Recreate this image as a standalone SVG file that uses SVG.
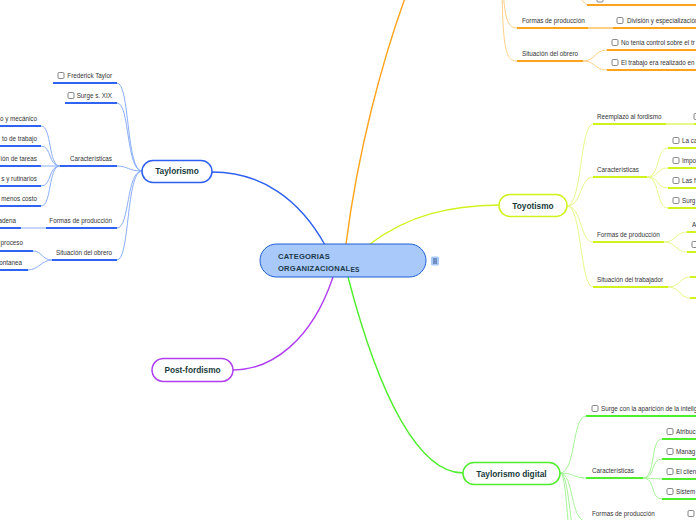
<svg xmlns="http://www.w3.org/2000/svg" width="696" height="520" viewBox="0 0 696 520">
<style>
.lbl{font-family:"Liberation Sans",Arial,sans-serif;font-size:6.3px;fill:#333}
.end{text-anchor:end}
.main{font-family:"Liberation Sans",Arial,sans-serif;font-weight:bold;font-size:8.3px;fill:#173b3b;text-anchor:middle}
.cb{fill:#fff;stroke:#666;stroke-width:0.8}
.c{fill:none;stroke-width:1}
.u{fill:none;stroke-width:2}
.bl{stroke:#3063f2}.blc{stroke:#8aaefc}
.or{stroke:#ffa31a}.orc{stroke:#ffcf85}
.yl{stroke:#d2f21c}.ylc{stroke:#e6f98a}
.gr{stroke:#4fee2c}.grc{stroke:#a6f597}
</style>
<g id="connectors">
<path d="M212,172 C262,172 300,200 325,245" stroke="#2d5ff0" stroke-width="1.4" fill="none"/>
<path d="M346,244 C358,150 382,62 405,-2" stroke="#ffa31a" stroke-width="1.4" fill="none"/>
<path d="M370,244 C410,214 450,206 499,205" stroke="#d2f21c" stroke-width="1.4" fill="none"/>
<path d="M333,277 C312,340 272,370 233,370" stroke="#b03ef0" stroke-width="1.4" fill="none"/>
<path d="M348,277 C380,400 420,473 463,473" stroke="#4fee2c" stroke-width="1.4" fill="none"/>
<g class="c blc">
<path d="M142,171 C126,171 130,83 117,83"/>
<path d="M142,171 C126,171 130,103 117,103"/>
<path d="M142,171 C128,171 128,166 117,166"/>
<path d="M142,171 C126,171 130,228 117,228"/>
<path d="M142,171 C126,171 130,260 117,260"/>
<path d="M60,166 C48,166 52,126 41,126"/>
<path d="M60,166 C48,166 52,146 41,146"/>
<path d="M60,166 L41,166"/>
<path d="M60,166 C48,166 52,186 41,186"/>
<path d="M60,166 C48,166 52,206 41,206"/>
<path d="M46,228 L21,228"/>
<path d="M52,260 C42,260 42,251 33,251"/>
<path d="M52,260 C42,260 38,270 28,270"/>
</g>
<g class="u bl">
<path d="M53,83 H117"/><path d="M65,103 H117"/><path d="M60,166 H117"/>
<path d="M46,228 H117"/><path d="M52,260 H117"/>
<path d="M0,126 H41"/><path d="M0,146 H41"/><path d="M0,166 H41"/><path d="M0,186 H41"/><path d="M0,206 H41"/>
<path d="M0,228 H21"/><path d="M0,251 H33"/><path d="M0,270 H28"/>
</g>
<g class="c orc">
<path d="M503,-10 C505,20 508,28 517,28"/>
<path d="M502,-10 C503,50 506,61 517,61"/>
<path d="M574,-10 C582,-8 580,5 590,5"/>
<path d="M583,61 C596,61 594,50 607,50"/>
<path d="M583,61 C596,61 594,70 607,70"/>
</g>
<path d="M588,28 H613" class="u orc"/>
<g class="u or">
<path d="M587,5 H696"/><path d="M517,28 H588"/><path d="M613,28 H696"/>
<path d="M517,61 H583"/><path d="M607,50 H696"/><path d="M607,70 H696"/>
</g>
<g class="c ylc">
<path d="M567,206 C582,206 580,124 593,124"/>
<path d="M567,206 C582,206 580,177 593,177"/>
<path d="M567,206 C582,206 580,242 593,242"/>
<path d="M567,206 C582,206 580,287 593,287"/>
<path d="M647,177 C660,177 656,148 668,148"/>
<path d="M647,177 C660,177 656,168 668,168"/>
<path d="M647,177 C660,177 656,188 668,188"/>
<path d="M647,177 C660,177 656,208 668,208"/>
<path d="M664,242 C676,242 676,232 687,232"/>
<path d="M664,242 C676,242 676,252 687,252"/>
<path d="M668,287 C680,287 680,277 690,277"/>
<path d="M668,287 C680,287 680,298 690,298"/>
</g>
<path d="M666,124 H694" class="u ylc"/>
<g class="u yl">
<path d="M593,124 H666"/><path d="M694,124 H696"/>
<path d="M593,177 H647"/><path d="M593,242 H664"/><path d="M593,287 H668"/>
<path d="M668,148 H696"/><path d="M668,168 H696"/><path d="M668,188 H696"/><path d="M668,208 H696"/>
<path d="M687,232 H696"/><path d="M687,252 H696"/><path d="M690,277 H696"/><path d="M690,298 H696"/>
</g>
<g class="c grc">
<path d="M560,473 C576,473 572,416 586,416"/>
<path d="M560,473 C574,473 574,478 586,478"/>
<path d="M560,473 C574,473 570,521 586,521"/>
<path d="M560,473 C572,473 568,560 586,560"/>
<path d="M560,473 C570,473 566,600 586,600"/>
<path d="M643,478 C656,478 650,439 662,439"/>
<path d="M643,478 C656,478 650,459 662,459"/>
<path d="M643,478 L662,479"/>
<path d="M643,478 C656,478 650,499 662,499"/>
</g>
<g class="u gr">
<path d="M586,416 H696"/><path d="M586,478 H643"/><path d="M586,521 H660"/>
<path d="M662,439 H696"/><path d="M662,459 H696"/><path d="M662,479 H696"/><path d="M662,499 H696"/>
</g>
</g>
<g id="central">
<rect x="260" y="244" width="166" height="33" rx="16.5" fill="#a8c9fa" stroke="#1e5fd4" stroke-width="1"/>
<text x="278" y="259" font-family="Liberation Sans,Arial,sans-serif" font-weight="bold" font-size="7.6" fill="#1c3b4a" letter-spacing="0.2">CATEGORIAS</text>
<text x="278" y="271" font-family="Liberation Sans,Arial,sans-serif" font-weight="bold" font-size="7.6" fill="#1c3b4a" letter-spacing="0.2">ORGANIZACIONAL<tspan font-size="6.6" dy="0.6">ES</tspan></text>
<rect x="431" y="256.5" width="8" height="9" rx="1.5" fill="#a8c9fa"/>
<path d="M433,259 H437 M433,261 H437 M433,263 H437" stroke="#1c3b6a" stroke-width="0.8"/>
</g>
<g id="taylorismo">
<rect x="142" y="160.5" width="70" height="22" rx="11" fill="#fff" stroke="#2d5ff0" stroke-width="1.5"/>
<text x="177" y="174" class="main">Taylorismo</text>
</g>
<g id="taylorismo-children">
<rect x="58" y="72.5" width="6" height="6" rx="1.2" class="cb"/>
<text x="112" y="78" class="lbl end">Frederick Taylor</text>
<rect x="68" y="92.5" width="6" height="6" rx="1.2" class="cb"/>
<text x="112" y="98" class="lbl end">Surge s. XIX</text>
<text x="112" y="161" class="lbl end">Características</text>
<text x="37" y="121" class="lbl end">o y mecánico</text>
<text x="37" y="141" class="lbl end">to de trabajo</text>
<text x="37" y="161" class="lbl end">ión de tareas</text>
<text x="37" y="181" class="lbl end">s y rutinarios</text>
<text x="37" y="201" class="lbl end">menos costo</text>
<text x="112" y="223" class="lbl end">Formas de producción</text>
<text x="16" y="223" class="lbl end">cadena</text>
<text x="112" y="255" class="lbl end">Situación del obrero</text>
<text x="23" y="245" class="lbl end">proceso</text>
<text x="22" y="265" class="lbl end">ontanea</text>
</g>
<g id="post-fordismo">
<rect x="152" y="358.5" width="81" height="23" rx="11.5" fill="#fff" stroke="#b03ef0" stroke-width="1.5"/>
<text x="192.5" y="373" class="main">Post-fordismo</text>
</g>
<g id="orange-children">
<rect x="597" y="-4" width="6" height="6" rx="1.2" class="cb"/>
<text x="522" y="23" class="lbl">Formas de producción</text>
<rect x="617" y="17.5" width="6" height="6" rx="1.2" class="cb"/>
<text x="627" y="23" class="lbl">División y especialización</text>
<text x="522" y="56" class="lbl">Situación del obrero</text>
<rect x="612" y="39.5" width="6" height="6" rx="1.2" class="cb"/>
<text x="621" y="45" class="lbl">No tenia control sobre el tr</text>
<rect x="612" y="59.5" width="6" height="6" rx="1.2" class="cb"/>
<text x="621" y="65" class="lbl">El trabajo era realizado en</text>
</g>
<g id="toyotismo">
<rect x="499" y="194.5" width="68" height="22" rx="11" fill="#fff" stroke="#d2f21c" stroke-width="1.5"/>
<text x="533" y="208.5" class="main">Toyotismo</text>
</g>
<g id="toyotismo-children">
<text x="597" y="119" class="lbl">Reemplazó al fordismo</text>
<rect x="694" y="113.5" width="6" height="6" rx="1.2" class="cb"/>
<text x="597" y="172" class="lbl">Características</text>
<rect x="673" y="137.5" width="6" height="6" rx="1.2" class="cb"/>
<text x="682" y="143" class="lbl">La ca</text>
<rect x="673" y="157.5" width="6" height="6" rx="1.2" class="cb"/>
<text x="682" y="163" class="lbl">Impo</text>
<rect x="673" y="177.5" width="6" height="6" rx="1.2" class="cb"/>
<text x="682" y="183" class="lbl">Las f</text>
<rect x="673" y="197.5" width="6" height="6" rx="1.2" class="cb"/>
<text x="682" y="203" class="lbl">Surg</text>
<text x="597" y="237" class="lbl">Formas de producción</text>
<text x="692" y="227" class="lbl">A</text>
<rect x="692" y="241.5" width="6" height="6" rx="1.2" class="cb"/>
<text x="597" y="282" class="lbl">Situación del trabajador</text>
</g>
<g id="taylorismo-digital">
<rect x="463" y="462.5" width="97" height="22" rx="11" fill="#fff" stroke="#4fee2c" stroke-width="1.5"/>
<text x="511.5" y="476.5" class="main">Taylorismo digital</text>
</g>
<g id="digital-children">
<rect x="592" y="405.5" width="6" height="6" rx="1.2" class="cb"/>
<text x="601" y="411" class="lbl">Surge con la aparición de la intelig</text>
<text x="592" y="473" class="lbl">Características</text>
<rect x="667" y="428.5" width="6" height="6" rx="1.2" class="cb"/>
<text x="676" y="434" class="lbl">Atribuc</text>
<rect x="667" y="448.5" width="6" height="6" rx="1.2" class="cb"/>
<text x="676" y="454" class="lbl">Manag</text>
<rect x="667" y="468.5" width="6" height="6" rx="1.2" class="cb"/>
<text x="676" y="474" class="lbl">El clien</text>
<rect x="667" y="488.5" width="6" height="6" rx="1.2" class="cb"/>
<text x="676" y="494" class="lbl">Sistem</text>
<text x="592" y="516" class="lbl">Formas de producción</text>
<rect x="688" y="510.5" width="6" height="6" rx="1.2" class="cb"/>
</g>
</svg>
